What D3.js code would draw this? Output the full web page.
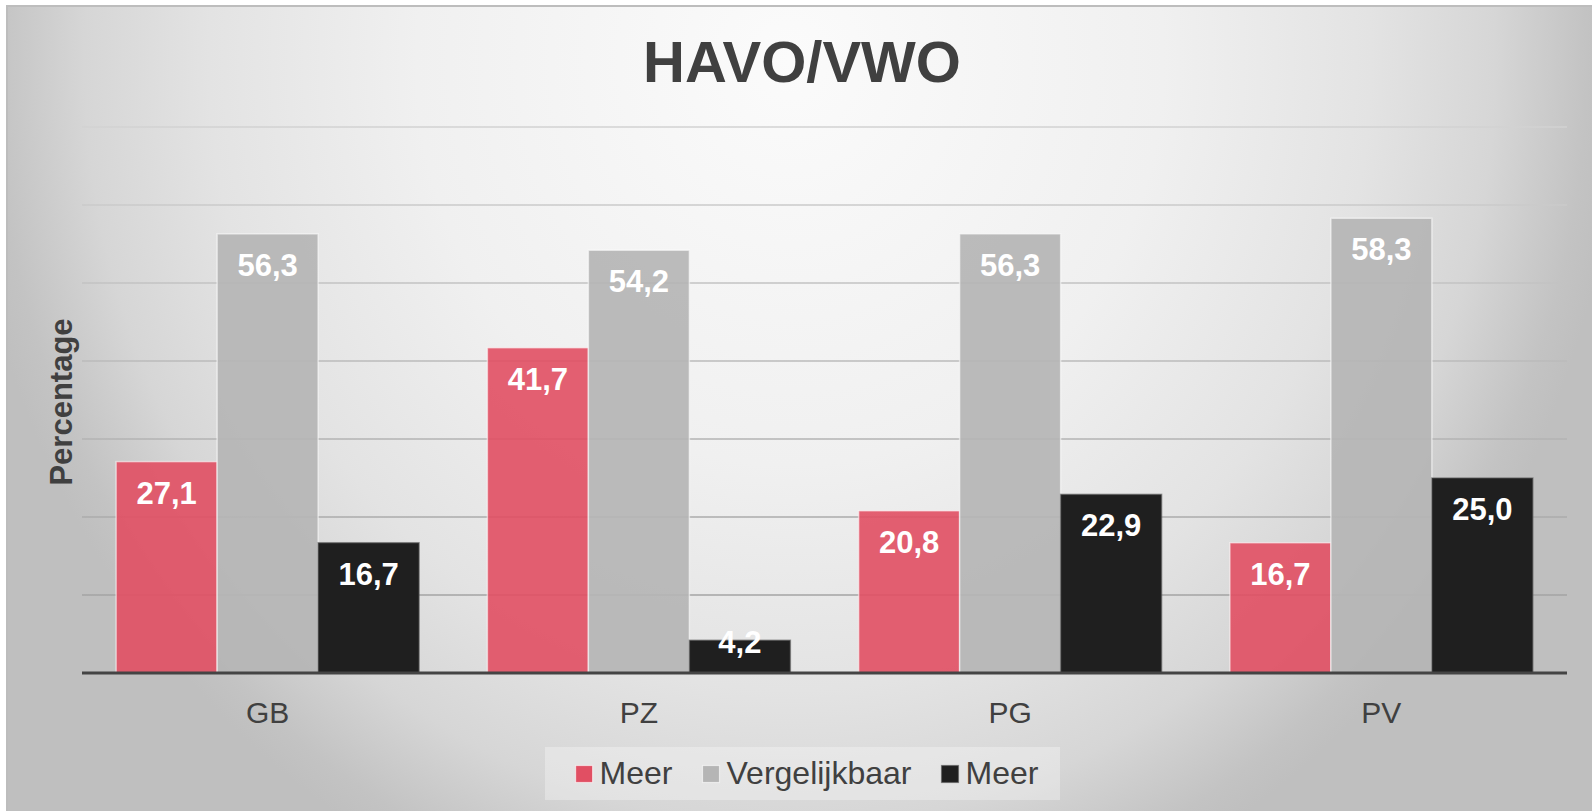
<!DOCTYPE html>
<html>
<head>
<meta charset="utf-8">
<script src="https://cdn.jsdelivr.net/npm/d3@7"></script>
<style>
  html, body { margin: 0; padding: 0; background: #ffffff; }
  svg { display: block; }
  text { font-family: "Liberation Sans", Arial, sans-serif; }
</style>
</head>
<body>
<script>
// ---- data ----
const titleText = "HAVO/VWO";
const yAxisTitle = "Percentage";
const categories = ["GB", "PZ", "PG", "PV"];
const seriesNames = ["Meer", "Vergelijkbaar", "Meer"];
const meerLaag = [27.1, 41.7, 20.8, 16.7];
const vergelijkbaar = [56.3, 54.2, 56.3, 58.3];
const meerHoog = [16.7, 4.2, 22.9, 25.0];
const yTicks = [0, 10, 20, 30, 40, 50, 60, 70];
const seriesColors = ["#e14f63", "#b5b5b5", "#1f1f1f"];
const seriesOpacity = [0.9, 0.92, 1];

const seriesValues = [meerLaag, vergelijkbaar, meerHoog];

// ---- layout ----
const W = 1592, H = 811;
const plot = { left: 82, right: 1567, top: 127, bottom: 673 };

const svg = d3.select("body").append("svg").attr("width", W).attr("height", H);
const defs = svg.append("defs");

const bg = defs.append("radialGradient")
  .attr("id", "bgGrad")
  .attr("gradientUnits", "userSpaceOnUse")
  .attr("cx", 0).attr("cy", 0).attr("r", 1)
  .attr("gradientTransform", "translate(790,60) scale(830,900)");
[[0, "#fbfbfb"], [0.45, "#f0f0f0"], [0.7, "#e3e3e3"], [0.85, "#d6d6d6"], [0.96, "#c3c3c3"], [1, "#bfbfbf"]]
  .forEach(([o, c]) => bg.append("stop").attr("offset", o).attr("stop-color", c));

const gridGrad = defs.append("linearGradient")
  .attr("id", "gridGrad")
  .attr("gradientUnits", "userSpaceOnUse")
  .attr("x1", 0).attr("y1", plot.top).attr("x2", 0).attr("y2", plot.bottom);
gridGrad.append("stop").attr("offset", 0).attr("stop-color", "#d2d2d2");
gridGrad.append("stop").attr("offset", 1).attr("stop-color", "#9c9c9c");

// background + border
svg.append("rect").attr("x", 7).attr("y", 6).attr("width", W).attr("height", H)
  .attr("fill", "url(#bgGrad)");
svg.append("path").attr("d", `M7,${H} L7,6 L${W},6`)
  .attr("fill", "none").attr("stroke", "#bdbdbd").attr("stroke-width", 2);

// scales
const x0 = d3.scaleBand().domain(categories).range([plot.left, plot.right]).padding(0);
const x1 = d3.scaleBand().domain(d3.range(seriesValues.length))
  .range([0, x0.bandwidth()]).paddingInner(0).paddingOuter(0.338);
const y = d3.scaleLinear().domain([0, 70]).range([plot.bottom, plot.top]);

// gridlines
svg.append("g")
  .selectAll("line")
  .data(yTicks.filter(t => t > 0))
  .join("line")
  .attr("x1", plot.left).attr("x2", plot.right)
  .attr("y1", d => y(d)).attr("y2", d => y(d))
  .attr("stroke", "url(#gridGrad)")
  .attr("stroke-width", 1.6);

// bars
const locale = d3.formatLocale({ decimal: ",", thousands: ".", grouping: [3], currency: ["€", ""] });
const fmt = locale.format(".1f");

const barData = [];
categories.forEach((c, ci) => {
  seriesValues.forEach((vals, si) => barData.push({ c, si, v: vals[ci] }));
});

const bars = svg.append("g");
bars.selectAll("rect")
  .data(barData)
  .join("rect")
  .attr("x", d => x0(d.c) + x1(d.si))
  .attr("y", d => y(d.v))
  .attr("width", x1.bandwidth())
  .attr("height", d => y(0) - y(d.v))
  .attr("fill", d => seriesColors[d.si])
  .attr("fill-opacity", d => seriesOpacity[d.si])
  .attr("stroke", d => d.si === 2 ? "#5a5a5a" : "#ffffff")
  .attr("stroke-opacity", 0.55)
  .attr("stroke-width", 1.5);

bars.selectAll("text")
  .data(barData)
  .join("text")
  .attr("x", d => x0(d.c) + x1(d.si) + x1.bandwidth() / 2)
  .attr("y", d => (y(0) - y(d.v) > 50) ? y(d.v) + 42 : y(d.v) + 13)
  .attr("text-anchor", "middle")
  .attr("font-size", 31)
  .attr("font-weight", "bold")
  .attr("fill", "#ffffff")
  .text(d => fmt(d.v));

// x axis line
svg.append("line")
  .attr("x1", plot.left).attr("x2", plot.right)
  .attr("y1", y(0)).attr("y2", y(0))
  .attr("stroke", "#444444").attr("stroke-width", 3);

// category labels
const xAxis = d3.axisBottom(x0).tickSize(0).tickPadding(0);
const xg = svg.append("g").attr("transform", `translate(0,${y(0)})`).call(xAxis);
xg.select(".domain").remove();
xg.selectAll("text")
  .attr("y", 50).attr("dy", null)
  .attr("font-size", 30)
  .attr("font-family", "Liberation Sans, Arial, sans-serif")
  .attr("fill", "#404040");

// title
svg.append("text")
  .attr("x", 802).attr("y", 82)
  .attr("text-anchor", "middle")
  .attr("font-size", 58).attr("font-weight", "bold")
  .attr("fill", "#404040")
  .text(titleText);

// y axis title
svg.append("text")
  .attr("transform", "translate(72,402) rotate(-90)")
  .attr("text-anchor", "middle")
  .attr("font-size", 31).attr("font-weight", "bold")
  .attr("fill", "#404040")
  .text(yAxisTitle);

// legend
const legendBox = { x: 545, y: 747, w: 515, h: 53 };
svg.append("rect")
  .attr("x", legendBox.x).attr("y", legendBox.y)
  .attr("width", legendBox.w).attr("height", legendBox.h)
  .attr("fill", "#ffffff").attr("fill-opacity", 0.3);

const lg = svg.append("g");
let cx = 0;
seriesNames.forEach((name, i) => {
  const g = lg.append("g");
  g.append("rect")
    .attr("x", 0).attr("y", -18.5).attr("width", 17).attr("height", 17)
    .attr("fill", seriesColors[i])
    .attr("stroke", i === 2 ? "#5a5a5a" : "#ffffff").attr("stroke-opacity", 0.6).attr("stroke-width", 1.2);
  const t = g.append("text")
    .attr("x", 24).attr("y", 0)
    .attr("font-size", 32)
    .attr("fill", "#404040")
    .text(name);
  const w = 24 + t.node().getComputedTextLength();
  g.attr("transform", `translate(${cx},0)`);
  cx += w + 30;
});
const totalW = cx - 30;
lg.attr("transform", `translate(${807 - totalW / 2},784)`);
</script>
</body>
</html>
